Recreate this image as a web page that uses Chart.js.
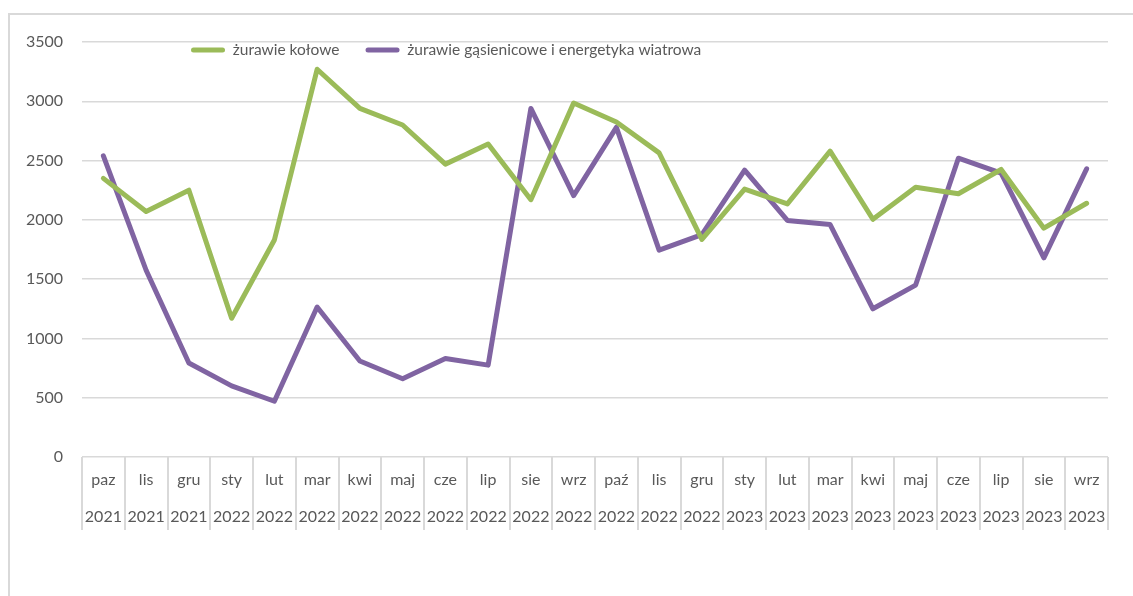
<!DOCTYPE html>
<html>
<head>
<meta charset="utf-8">
<script src="https://cdn.jsdelivr.net/npm/chart.js@4"></script>
<style>
  body { margin: 0; background: #fff; }
  #wrap { position: relative; width: 1133px; height: 596px; overflow: hidden; }
  #frame { position: absolute; left: 8px; top: 13px; right: -10px; bottom: -10px;
           border-left: 2px solid #d9d9d9; border-top: 2px solid #d9d9d9; }
  #chart { position: absolute; left: 0; top: 0; }
</style>
</head>
<body>
<div id="wrap">
  <div id="frame"></div>
  <canvas id="chart" width="1133" height="596"></canvas>
</div>
<script>
const months = ['paz', 'lis', 'gru', 'sty', 'lut', 'mar', 'kwi', 'maj', 'cze', 'lip', 'sie', 'wrz',
  'paź', 'lis', 'gru', 'sty', 'lut', 'mar', 'kwi', 'maj', 'cze', 'lip', 'sie', 'wrz'];
const years = ['2021', '2021', '2021', '2022', '2022', '2022', '2022', '2022', '2022', '2022', '2022', '2022',
  '2022', '2022', '2022', '2023', '2023', '2023', '2023', '2023', '2023', '2023', '2023', '2023'];

const kolowe = [2350, 2070, 2250, 1170, 1830, 3270, 2940, 2800, 2470, 2640, 2170, 2985,
  2825, 2565, 1835, 2260, 2135, 2580, 2005, 2275, 2220, 2425, 1930, 2140];
const gasienicowe = [2540, 1575, 793, 600, 470, 1265, 810, 660, 830, 775, 2940, 2205,
  2780, 1745, 1875, 2420, 1995, 1960, 1250, 1450, 2520, 2395, 1680, 2430];

const yTicks = [0, 500, 1000, 1500, 2000, 2500, 3000, 3500];

const labels = months.map((m, i) => [m, years[i]]);
const textColor = '#595959';
const gridColor = '#d9d9d9';

// legend sits inside the plot, under the top gridline
const moveLegend = {
  id: 'moveLegend',
  beforeDraw(chart) {
    const lg = chart.legend;
    const pad = lg.options.labels.padding;
    const fs = lg.options.labels.font.size;
    lg.left = 191 - pad;
    lg.right = lg.left + 900;
    lg.width = 900;
    lg.top = 50 - fs / 2 - pad;
    lg.bottom = lg.top + 60;
  }
};

const ctx = document.getElementById('chart').getContext('2d');

const chart = new Chart(ctx, {
  type: 'line',
  data: {
    labels: labels,
    datasets: [{
      label: 'żurawie kołowe',
      data: kolowe,
      borderColor: '#9BBB59',
      backgroundColor: '#9BBB59',
      borderWidth: 5,
      pointRadius: 0,
      tension: 0,
      borderJoinStyle: 'round',
      borderCapStyle: 'round'
    },
    {
      label: 'żurawie gąsienicowe i energetyka wiatrowa',
      data: gasienicowe,
      borderColor: '#8064A2',
      backgroundColor: '#8064A2',
      borderWidth: 5,
      pointRadius: 0,
      tension: 0,
      borderJoinStyle: 'round',
      borderCapStyle: 'round'
    }]
  },
  options: {
    responsive: false,
    animation: false,
    layout: { padding: { left: 0, right: 25, top: 22, bottom: 0 } },
    plugins: {
      tooltip: { enabled: false },
      legend: {
        position: 'top',
        align: 'start',
        maxHeight: 20,
        labels: {
          color: textColor,
          font: { family: 'Lato', size: 15.5 },
          boxWidth: 34,
          boxHeight: 5,
          padding: 26,
          useBorderRadius: true,
          borderRadius: 2.5,
          generateLabels: function(c) {
            return Chart.defaults.plugins.legend.labels.generateLabels(c)
              .map(l => Object.assign(l, { lineWidth: 0 }));
          }
        }
      }
    },
    scales: {
      x: {
        offset: true,
        grid: {
          offset: true,
          drawOnChartArea: false,
          drawTicks: true,
          tickLength: 73,
          color: gridColor,
          lineWidth: 2
        },
        border: { display: false },
        ticks: {
          color: textColor,
          font: { family: 'Lato', size: 16, lineHeight: 37 / 16 },
          padding: -68.5,
          autoSkip: false,
          maxRotation: 0,
          minRotation: 0
        },
        afterFit: function(scale) { scale.height = 139; }
      },
      y: {
        min: 0,
        max: 3500,
        afterBuildTicks: function(scale) {
          scale.ticks = yTicks.map(v => ({ value: v }));
        },
        grid: {
          color: gridColor,
          lineWidth: 1.5,
          drawTicks: false
        },
        border: { display: false },
        ticks: {
          color: textColor,
          font: { family: 'Lato', size: 16 },
          padding: 19,
          callback: function(v) { return String(v); }
        },
        afterFit: function(scale) { scale.width = 82; }
      }
    }
  },
  plugins: [moveLegend]
});
</script>
</body>
</html>
